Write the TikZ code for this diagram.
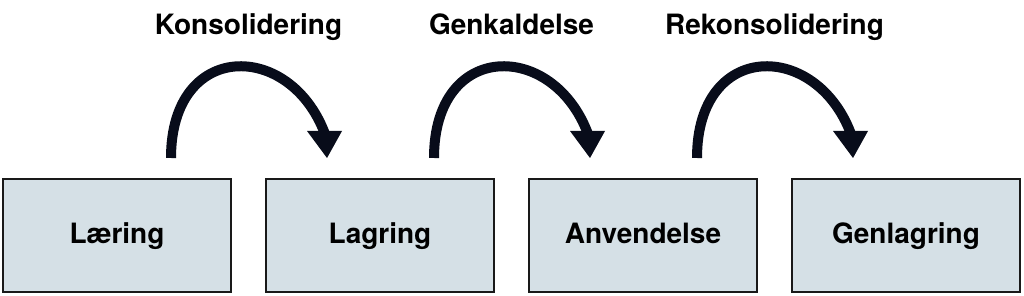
\documentclass[tikz,border=0pt]{standalone}
\usepackage{fontspec}
\setmainfont{TeX Gyre Heros}
\definecolor{boxfill}{RGB}{213,224,230}
\definecolor{boxline}{RGB}{25,25,25}
\definecolor{arrowcol}{RGB}{8,12,26}
\tikzset{
  stagebox/.style={draw=boxline, fill=boxfill, line width=2pt, minimum width=228pt, minimum height=113pt,
    inner sep=0pt, text height=20pt, text depth=3pt, font=\fontsize{28}{30}\selectfont\bfseries},
  proclabel/.style={anchor=base, inner sep=0pt, font=\fontsize{28}{30}\selectfont\bfseries},
  bigshaft/.style={draw=arrowcol, line width=10pt},
  bighead/.style={fill=arrowcol}
}
\begin{document}
\begin{tikzpicture}[x=1pt,y=1pt]
\useasboundingbox (0,0) rectangle (1024,296);
\node[stagebox] (b1) at (117,60.5) {Læring};
\node[stagebox] (b2) at (380,60.5) {Lagring};
\node[stagebox] (b3) at (643,60.5) {Anvendelse};
\node[stagebox] (b4) at (906,60.5) {Genlagring};
\node[proclabel] (l1) at (248.5,261) {Konsolidering};
\node[proclabel] (l2) at (511.5,261) {Genkaldelse};
\node[proclabel] (l3) at (774.5,261) {Rekonsolidering};
\foreach \a/\b in {b1/b2,b2/b3,b3/b4}{
  \coordinate (s-\a) at ([xshift=54pt,yshift=20pt]\a.north);
  \coordinate (e-\b) at ([xshift=-53pt,yshift=20pt]\b.north);
  \coordinate (m-\b) at ([xshift=-2pt,yshift=24pt]e-\b);
  \draw[bigshaft] (s-\a) .. controls +(0,118) and +(-35,94) .. (m-\b);
  \fill[bighead] ([xshift=-20pt,yshift=27pt]e-\b) -- ([xshift=15pt,yshift=27pt]e-\b) -- (e-\b) -- cycle;
}
\end{tikzpicture}
\end{document}
